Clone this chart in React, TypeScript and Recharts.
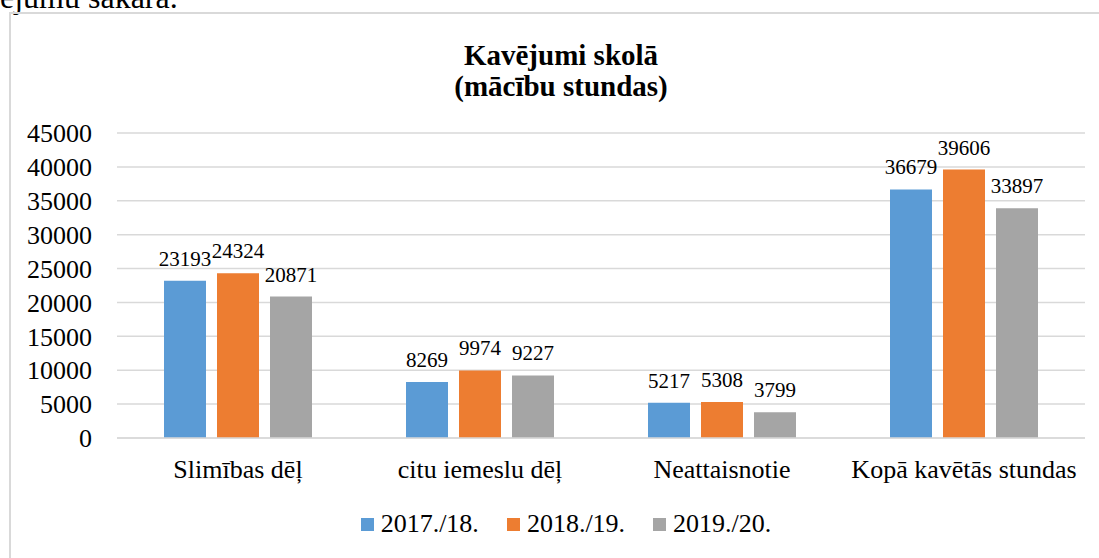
import React from "react";
import {
  BarChart,
  Bar,
  XAxis,
  YAxis,
  CartesianGrid,
  LabelList,
} from "recharts";

const categories = [
  "Slimības dēļ",
  "citu iemeslu dēļ",
  "Neattaisnotie",
  "Kopā kavētās stundas",
];
const values1718 = [23193, 8269, 5217, 36679];
const values1819 = [24324, 9974, 5308, 39606];
const values1920 = [20871, 9227, 3799, 33897];
const seriesNames = ["2017./18.", "2018./19.", "2019./20."];
const seriesColors = ["#5B9BD5", "#ED7D31", "#A5A5A5"];
const yTicks = [0, 5000, 10000, 15000, 20000, 25000, 30000, 35000, 40000, 45000];

const data = categories.map((name, i) => ({
  name,
  s0: values1718[i],
  s1: values1819[i],
  s2: values1920[i],
}));

const FONT = "Liberation Serif, DejaVu Serif, serif";
const GRID = "#D9D9D9";

export default function App() {
  return (
    <div
      style={{
        position: "absolute",
        left: 0,
        top: 0,
        width: 1099,
        height: 558,
        overflow: "hidden",
        background: "#fff",
        fontFamily: FONT,
      }}
    >
      {/* cut-off line of document text above the chart */}
      <div
        style={{
          position: "absolute",
          left: 0,
          top: -19,
          fontSize: 32,
          lineHeight: "32px",
          color: "#000",
          whiteSpace: "nowrap",
        }}
      >
        ejumu sakarā.
      </div>

      {/* chart area frame */}
      <div
        style={{
          position: "absolute",
          left: 9,
          top: 12,
          width: 1200,
          height: 700,
          border: `2px solid ${GRID}`,
          boxSizing: "border-box",
        }}
      />

      <div
        style={{
          position: "absolute",
          left: 0,
          width: 1122,
          top: 40,
          textAlign: "center",
          fontWeight: "bold",
          fontSize: 29,
          lineHeight: "31px",
          color: "#000",
        }}
      >
        Kavējumi skolā
        <br />
        (mācību stundas)
      </div>

      <div style={{ position: "absolute", left: 0, top: 0 }}>
        <BarChart
          width={1099}
          height={558}
          data={data}
          margin={{ top: 133, right: 14, bottom: 0, left: 0 }}
          barSize={42}
          barGap={11}
          style={{ fontFamily: FONT }}
        >
          <CartesianGrid vertical={false} stroke={GRID} strokeWidth={1.5} />
          <XAxis
            dataKey="name"
            height={120}
            axisLine={{ stroke: GRID, strokeWidth: 1.5 }}
            tickLine={false}
            tickMargin={16}
            interval={0}
            tick={{ fontSize: 26, fill: "#000", fontFamily: FONT }}
          />
          <YAxis
            width={117}
            domain={[0, 45000]}
            ticks={yTicks}
            interval={0}
            axisLine={false}
            tickLine={false}
            tickMargin={19}
            tick={{ fontSize: 26, fill: "#000", fontFamily: FONT }}
          />
          {["s0", "s1", "s2"].map((key, i) => (
            <Bar
              key={key}
              dataKey={key}
              name={seriesNames[i]}
              fill={seriesColors[i]}
              isAnimationActive={false}
            >
              <LabelList
                dataKey={key}
                position="top"
                offset={15}
                fontFamily={FONT}
                fontSize={21}
                fill="#000"
              />
            </Bar>
          ))}
        </BarChart>
      </div>

      {/* legend */}
      <div
        style={{
          position: "absolute",
          left: 0,
          width: 1132,
          top: 509,
          display: "flex",
          justifyContent: "center",
          gap: 28,
          fontSize: 26,
          lineHeight: "30px",
          color: "#000",
        }}
      >
        {seriesNames.map((n, i) => (
          <div key={n} style={{ display: "flex", alignItems: "center" }}>
            <span
              style={{
                display: "inline-block",
                width: 13,
                height: 13,
                background: seriesColors[i],
                marginRight: 7,
              }}
            />
            <span>{n}</span>
          </div>
        ))}
      </div>
    </div>
  );
}
